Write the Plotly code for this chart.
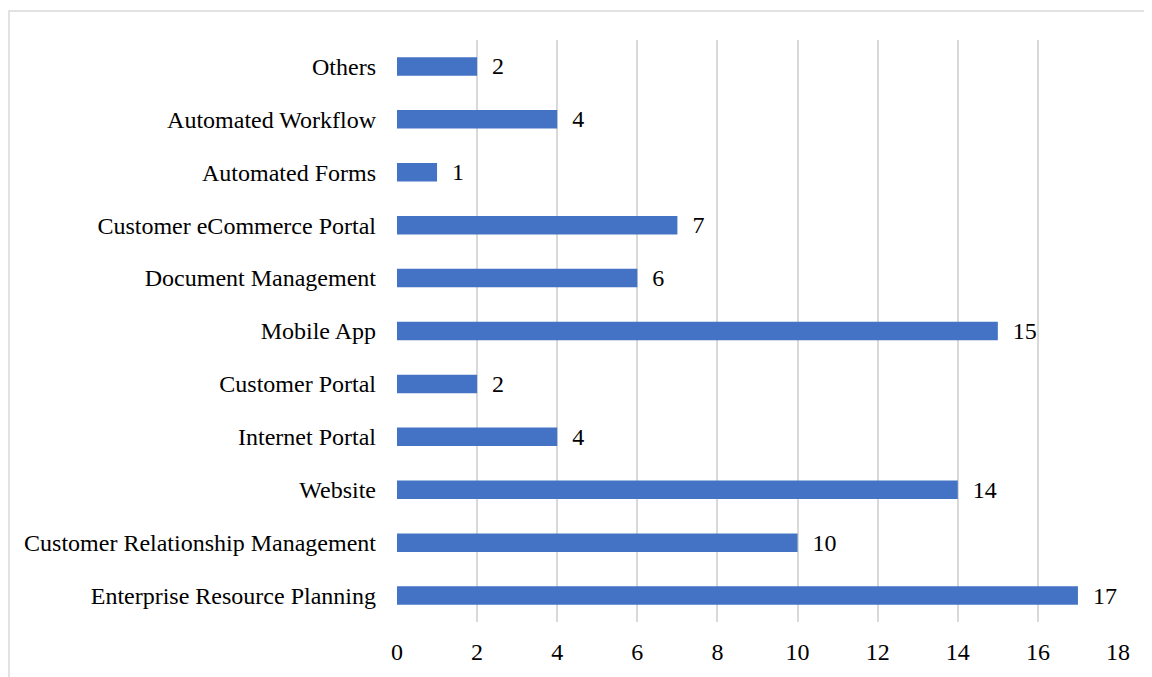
import plotly.graph_objects as go

categories = ["Enterprise Resource Planning", "Customer Relationship Management", "Website",
              "Internet Portal", "Customer Portal", "Mobile App", "Document Management",
              "Customer eCommerce Portal", "Automated Forms", "Automated Workflow", "Others"]
values = [17, 10, 14, 4, 2, 15, 6, 7, 1, 4, 2]
x_ticks = [0, 2, 4, 6, 8, 10, 12, 14, 16, 18]

FONT = "Liberation Serif, Times New Roman, serif"
FS = 24

fig = go.Figure()
fig.add_trace(go.Bar(
    y=categories, x=values, orientation="h",
    marker=dict(color="#4472C4", line=dict(width=0)),
    width=0.35,
    text=["\u00a0\u00a0" + str(v) for v in values],
    textposition="outside", cliponaxis=False, constraintext="none",
    textfont=dict(family=FONT, size=FS, color="#000000"),
))

# page body has an 8px margin; figure is sized/offset to compensate
OFF = 8
W, H = 1152 - OFF, 677 - OFF
L, R, T, B = 397 - OFF, 34, 40 - OFF, 53
pw, ph = W - L - R, H - T - B
fig.add_shape(type="rect", xref="paper", yref="paper",
              x0=(1 - L) / pw, x1=(1170 - L) / pw,
              y0=(H - B - 700) / ph, y1=(H - B - (11 - OFF)) / ph,
              line=dict(color="#D9D9D9", width=1.5), fillcolor="rgba(0,0,0,0)", layer="below")

fig.update_layout(
    width=W, height=H,
    margin=dict(l=L, r=R, t=T, b=B),
    paper_bgcolor="white", plot_bgcolor="white",
    showlegend=False,
    font=dict(family=FONT, size=FS, color="#000000"),
    xaxis=dict(range=[0, 18], tickvals=x_ticks, showgrid=True, gridcolor="#D9D9D9", gridwidth=2,
               zeroline=False, showline=False, ticks="", ticklabelstandoff=13,
               tickfont=dict(family=FONT, size=FS)),
    yaxis=dict(showgrid=False, zeroline=False, showline=False, ticks="", ticklabelstandoff=20,
               tickfont=dict(family=FONT, size=FS)),
    bargap=0.65,
)
fig.write_html("out.html")
